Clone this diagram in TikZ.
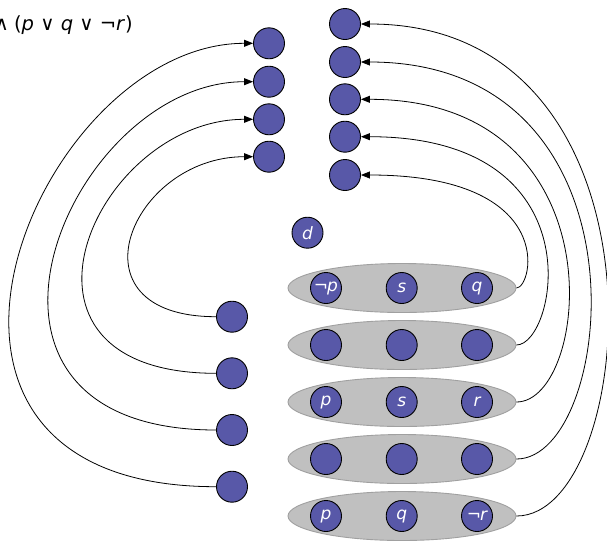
\documentclass[tikz,border=0pt]{standalone}
\usepackage{fontspec}
\setmainfont{DejaVu Sans}
\usetikzlibrary{arrows.meta,shapes.geometric}
\definecolor{dotblue}{RGB}{88,88,168}
\definecolor{ovalfill}{RGB}{192,192,192}
\definecolor{ovalline}{RGB}{160,160,160}
\tikzset{
  dot/.style={circle,draw=black,line width=0.9pt,fill=dotblue,minimum size=31pt,inner sep=0pt,
    text=white,font=\fontsize{17}{17}\selectfont\itshape},
  oval/.style={ellipse,draw=ovalline,line width=0.9pt,fill=ovalfill,minimum width=228pt,minimum height=49pt,inner sep=0pt},
  conn/.style={line width=0.8pt,-{Triangle[length=9pt,width=7pt]}},
  link/.style={line width=0.8pt}
}
\begin{document}
\begin{tikzpicture}[x=1pt,y=-1pt]
\useasboundingbox (0,0) rectangle (607,542);
% title
\node[anchor=base east,inner sep=0pt,font=\fontsize{19.5}{19.5}\selectfont] (title) at (133,30)
  {∧\kern-1pt\ (\textit{p} ∨ \textit{q} ∨ ¬\textit{r})};
% ovals
\foreach \i/\y in {1/288,2/345,3/402,4/459,5/516}{
  \node[oval] (e\i) at (402,\y) {};
}
% dots in ovals
\node[dot] (a1) at (326,288) {¬\kern-1pt p};
\node[dot] (b1) at (401.7,288) {s};
\node[dot] (c1) at (477,288) {q};
\node[dot] (a2) at (326,345) {};
\node[dot] (b2) at (401.7,345) {};
\node[dot] (c2) at (477,345) {};
\node[dot] (a3) at (326,402) {p};
\node[dot] (b3) at (401.7,402) {s};
\node[dot] (c3) at (477,402) {r};
\node[dot] (a4) at (326,459) {};
\node[dot] (b4) at (401.7,459) {};
\node[dot] (c4) at (477,459) {};
\node[dot] (a5) at (326,516) {p};
\node[dot] (b5) at (401.7,516) {q};
\node[dot] (c5) at (477,516) {¬\kern-1pt r};
% d
\node[dot] (d) at (307.5,232.7) {d};
% top-left column
\node[dot] (tl1) at (269,43.3) {};
\node[dot] (tl2) at (269,81.7) {};
\node[dot] (tl3) at (269,119.3) {};
\node[dot] (tl4) at (269,156.7) {};
% top-right column
\node[dot] (tr1) at (345,24) {};
\node[dot] (tr2) at (345,62) {};
\node[dot] (tr3) at (345,99.3) {};
\node[dot] (tr4) at (345,136.7) {};
\node[dot] (tr5) at (345,175) {};
% bottom-left column
\node[dot] (bl1) at (232,316.7) {};
\node[dot] (bl2) at (232,373.3) {};
\node[dot] (bl3) at (232,430) {};
\node[dot] (bl4) at (232,486.7) {};
% left arcs
\draw[conn] (bl1.west) .. controls +(-151.5,0) and +(-122.2,0) .. (tl4.west);
\draw[conn] (bl2.west) .. controls +(-233.6,0) and +(-158.4,0) .. (tl3.west);
\draw[conn] (bl3.west) .. controls +(-294.4,0) and +(-185.2,0) .. (tl2.west);
\draw[conn] (bl4.west) .. controls +(-364.2,0) and +(-216.0,0) .. (tl1.west);
% right arcs
\draw[conn] (e1.east) .. controls +(16.4,0) and +(198.3,0) .. (tr5.east);
\draw[conn] (e2.east) .. controls +(40,0) and +(238.2,0) .. (tr4.east);
\draw[conn] (e3.east) .. controls +(74,0) and +(261.1,0) .. (tr3.east);
\draw[conn] (e4.east) .. controls +(99,0) and +(297.6,0) .. (tr2.east);
\draw[conn] (e5.east) .. controls +(123,0) and +(320.4,0) .. (tr1.east);
\end{tikzpicture}
\end{document}
